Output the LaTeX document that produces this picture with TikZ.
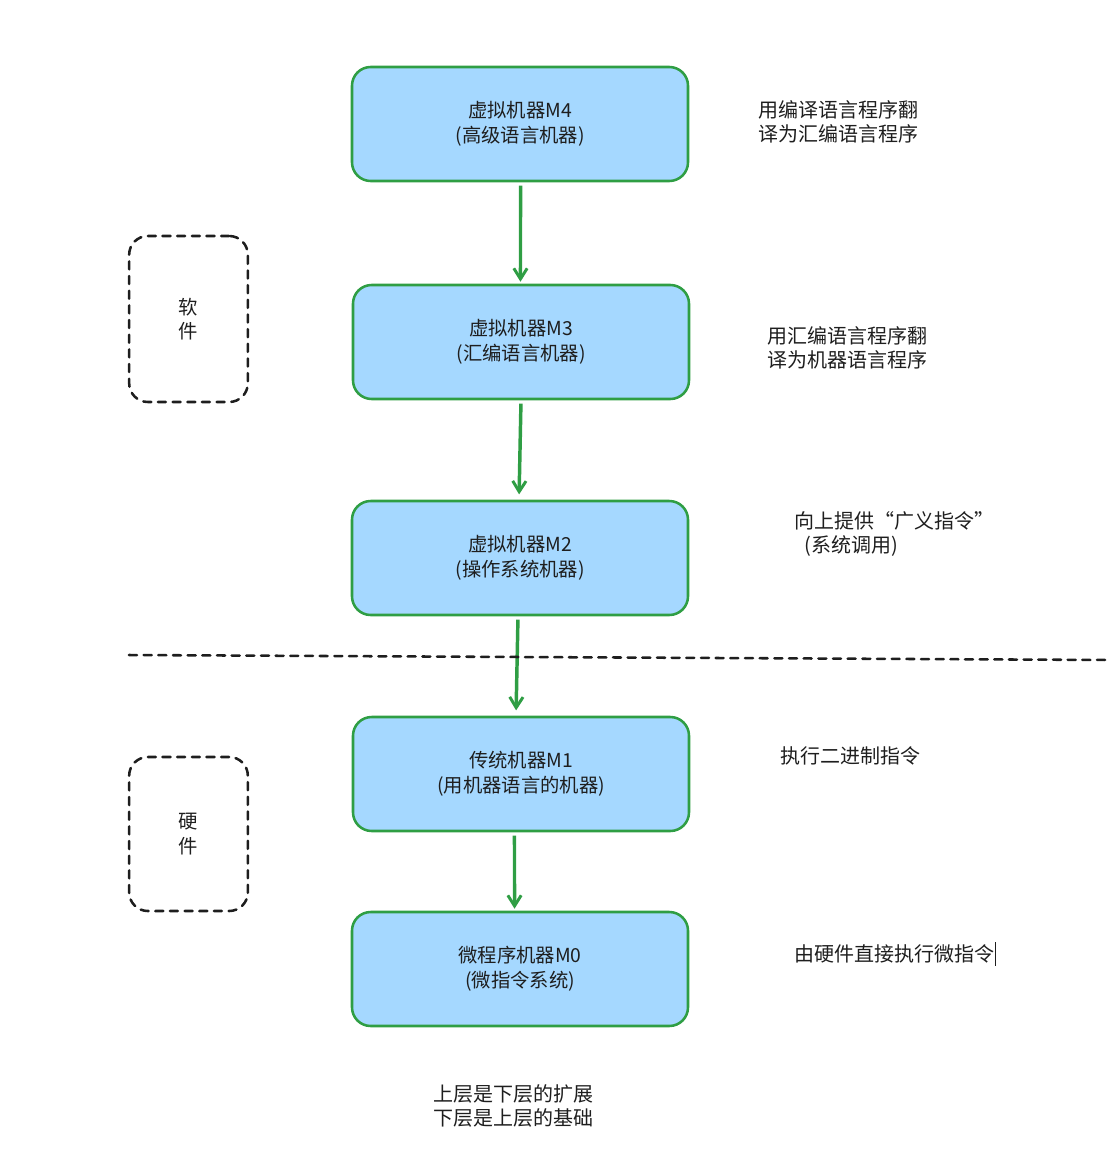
\documentclass[tikz,border=0pt]{standalone}
\usepackage{fontspec}
\setmainfont{Noto Sans CJK SC}
\usetikzlibrary{arrows.meta}
\definecolor{boxfill}{HTML}{A5D8FF}
\definecolor{boxline}{HTML}{2F9E44}
\definecolor{ink}{HTML}{1E1E1E}
\tikzset{
  machine/.style={draw=boxline, fill=boxfill, line width=1.9pt, rounded corners=14pt,
    minimum width=252pt, minimum height=85.5pt, align=center, text=ink,
    font=\fontsize{14.5}{18.5}\selectfont},
  group/.style={draw=ink, line width=1.9pt, dash pattern=on 6pt off 5pt, line cap=round,
    rounded corners=14pt, minimum width=89pt, align=center, text=ink,
    font=\fontsize{14.5}{18.5}\selectfont},
  note/.style={anchor=west, align=left, text=ink, font=\fontsize{15}{18.5}\selectfont, inner sep=0pt},
  flow/.style={draw=boxline, line width=2.6pt, shorten <=2.5pt, shorten >=1.5pt,
    -{Straight Barb[length=8pt,width=10pt,line width=2.2pt]}},
}
\begin{document}
\begin{tikzpicture}[x=0.75pt,y=-0.75pt]
\useasboundingbox (0,0) rectangle (1113,1153);
\node[machine] (m4) at (520,124) {虚拟机器M4\\(高级语言机器)};
\node[machine] (m3) at (521,342) {虚拟机器M3\\(汇编语言机器)};
\node[machine] (m2) at (520,558) {虚拟机器M2\\(操作系统机器)};
\node[machine] (m1) at (521,774) {传统机器M1\\(用机器语言的机器)};
\node[machine] (m0) at (520,969) {微程序机器M0\\(微指令系统)};

\draw[flow] ([xshift=0.4pt]m4.south) -- ([xshift=-0.4pt]m3.north);
\draw[flow, shorten >=4pt] (m3.south) -- ([xshift=-0.75pt]m2.north);
\draw[flow, shorten >=4pt] ([xshift=-1.5pt]m2.south) -- ([xshift=-3.75pt]m1.north);
\draw[flow] ([xshift=-4.9pt]m1.south) -- ([xshift=-4.1pt]m0.north);

\node[group, minimum height=124.5pt] (sw) at (188.5,319) {软\\件};
\node[group, minimum height=115.5pt] (hw) at (188.5,834) {硬\\件};

\coordinate (dl) at (129,655);
\coordinate (dr) at (1110,660);
\draw[ink, line width=1.9pt, dash pattern=on 6pt off 5pt, line cap=round] (dl) -- (dr);

\node[note] (n4) at (758,122) {用编译语言程序翻\\译为汇编语言程序};
\node[note] (n3) at (767,348) {用汇编语言程序翻\\译为机器语言程序};
\node[note] (n2) at (794,534) {向上提供“广义指令”\\\hspace{8pt}(系统调用)};
\node[note] (n1) at (780,756) {执行二进制指令};
\node[note] (n0) at (794,954) {由硬件直接执行微指令};
\draw[ink, line width=0.8pt] (n0.east) ++(1,-12) coordinate (c1) -- ++(0,24) coordinate (c2);
\node[note] (base) at (433,1106) {上层是下层的扩展\\下层是上层的基础};
\end{tikzpicture}
\end{document}
